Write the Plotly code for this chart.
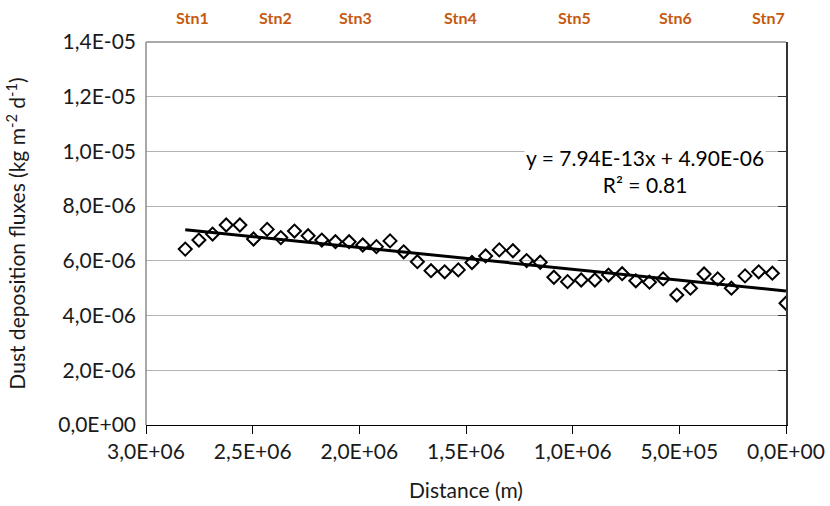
import plotly.graph_objects as go

# Distance along the transect (m) and measured dust deposition flux (kg m-2 d-1)
distance_m = [2816000, 2752000, 2688000, 2624000, 2560000, 2496000, 2432000, 2368000,
              2304000, 2240000, 2176000, 2112000, 2048000, 1984000, 1920000, 1856000,
              1792000, 1728000, 1664000, 1600000, 1536000, 1472000, 1408000, 1344000,
              1280000, 1216000, 1152000, 1088000, 1024000, 960000, 896000, 832000,
              768000, 704000, 640000, 576000, 512000, 448000, 384000, 320000,
              256000, 192000, 128000, 64000, 0]
flux = [6.43e-6, 6.76e-6, 6.98e-6, 7.31e-6, 7.31e-6, 6.80e-6, 7.15e-6, 6.85e-6,
        7.09e-6, 6.92e-6, 6.76e-6, 6.70e-6, 6.70e-6, 6.58e-6, 6.52e-6, 6.73e-6,
        6.33e-6, 5.97e-6, 5.64e-6, 5.60e-6, 5.67e-6, 5.94e-6, 6.18e-6, 6.40e-6,
        6.37e-6, 6.01e-6, 5.95e-6, 5.40e-6, 5.24e-6, 5.30e-6, 5.30e-6, 5.48e-6,
        5.53e-6, 5.27e-6, 5.22e-6, 5.34e-6, 4.75e-6, 5.00e-6, 5.52e-6, 5.34e-6,
        5.00e-6, 5.45e-6, 5.60e-6, 5.55e-6, 4.45e-6]

# Linear trend reported for the series
slope = 7.94e-13
intercept = 4.90e-06
r_squared = 0.81

# Station markers along the top of the chart
stations = ["Stn1", "Stn2", "Stn3", "Stn4", "Stn5", "Stn6", "Stn7"]
station_x = [2780000, 2392000, 2020000, 1525000, 991000, 518000, 84000]

# Axis ticks (comma decimal separator)
x_ticks = [3.0e6, 2.5e6, 2.0e6, 1.5e6, 1.0e6, 5.0e5, 0.0]
x_tick_labels = ["3,0E+06", "2,5E+06", "2,0E+06", "1,5E+06", "1,0E+06", "5,0E+05", "0,0E+00"]
y_ticks = [0.0, 2e-6, 4e-6, 6e-6, 8e-6, 1.0e-5, 1.2e-5, 1.4e-5]
y_tick_labels = ["0,0E+00", "2,0E-06", "4,0E-06", "6,0E-06", "8,0E-06", "1,0E-05", "1,2E-05", "1,4E-05"]

FONT = "Lato"
GRID = "#b3b3b3"
TEXT = "#1a1a1a"

W, H = 830, 506
M_L, M_R, M_T, M_B = 146, 44, 42, 81
PLOT_H = H - M_T - M_B

fig = go.Figure()

fig.add_trace(go.Scatter(
    x=distance_m, y=flux, mode="markers",
    marker=dict(symbol="diamond-open", size=10, color="black", line=dict(width=2, color="black")),
    showlegend=False, hoverinfo="x+y",
))

trend_x = [max(distance_m), min(distance_m)]
trend_y = [slope * v + intercept for v in trend_x]
fig.add_trace(go.Scatter(
    x=trend_x, y=trend_y, mode="lines",
    line=dict(color="black", width=3),
    showlegend=False, hoverinfo="skip",
))

# invisible trace to carry the right-hand axis with inward ticks
fig.add_trace(go.Scatter(x=[0], y=[0], yaxis="y2", mode="markers",
                         marker=dict(opacity=0), showlegend=False, hoverinfo="skip"))

fig.update_layout(
    width=W, height=H,
    margin=dict(l=M_L, r=M_R, t=M_T, b=M_B),
    paper_bgcolor="white", plot_bgcolor="white",
    font=dict(family=FONT, size=21, color=TEXT),
    xaxis=dict(
        range=[3.0e6, 0.0], tickvals=x_ticks, ticktext=x_tick_labels,
        showgrid=False, zeroline=False, automargin=False,
        showline=True, linecolor="black", linewidth=1.3,
        ticks="outside", ticklen=8, tickcolor="black", tickwidth=1,
        title=dict(text="Distance (m)", standoff=20, font=dict(size=21)),
    ),
    yaxis=dict(
        range=[0, 1.4e-5], tickvals=y_ticks, ticktext=y_tick_labels,
        showgrid=True, gridcolor=GRID, gridwidth=1, zeroline=False, automargin=False,
        showline=False, ticks="", ticklabelstandoff=9,
        title=dict(text="Dust deposition fluxes (kg m<sup>-2</sup> d<sup>-1</sup>)", standoff=26,
                   font=dict(size=21)),
    ),
    yaxis2=dict(
        range=[0, 1.4e-5], overlaying="y", side="right", tickvals=y_ticks,
        showticklabels=False, showgrid=False, zeroline=False, automargin=False,
        showline=True, linecolor="#333333", linewidth=2,
        ticks="inside", ticklen=8, tickcolor="#333333", tickwidth=1,
    ),
    shapes=[
        # plot area border (top and left)
        dict(type="line", xref="paper", yref="paper", x0=0, x1=1, y0=1, y1=1,
             line=dict(color="#8c8c8c", width=1.5)),
        dict(type="line", xref="paper", yref="paper", x0=0, x1=0, y0=0, y1=1,
             line=dict(color="#8c8c8c", width=1.5)),
    ],
)

# station labels sit 18 px below the top of the page
station_y = 1 + (M_T - 18) / PLOT_H
for name, sx in zip(stations, station_x):
    fig.add_annotation(x=sx, xref="x", y=station_y, yref="paper", yanchor="middle",
                       text=f"<b>{name}</b>", showarrow=False,
                       font=dict(family=FONT, size=16, color="#c55a11"))

# regression equation and R², boxed in white over the gridline
eq_top = (H - M_B - 143) / PLOT_H
fig.add_annotation(
    x=0.78, y=eq_top, xref="paper", yref="paper",
    xanchor="center", yanchor="top",
    text=f"y = {slope:.2E}x + {intercept:.2E}<br>R² = {r_squared:.2f}",
    showarrow=False, align="center", bgcolor="white",
    font=dict(family=FONT, size=21, color="black"),
)

fig.write_html("out.html")
